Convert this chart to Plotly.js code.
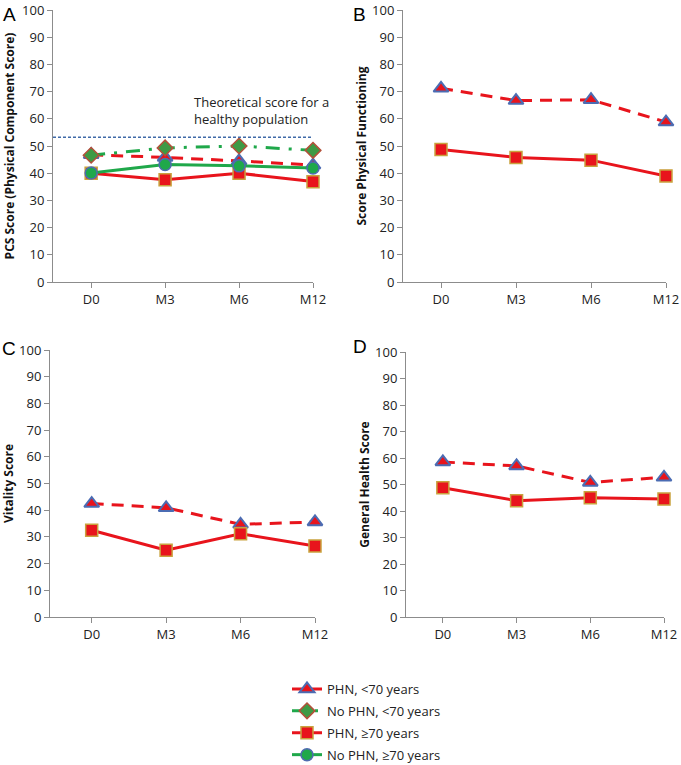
<!DOCTYPE html>
<html>
<head>
<meta charset="utf-8">
<script src="https://cdn.plot.ly/plotly-3.0.1.min.js"></script>
<style>html,body{margin:0;padding:0;background:#fff;}#chart{width:681px;height:765px;}</style>
</head>
<body>
<div id="chart"></div>
<script>
// ---- data ----
const categories = ['D0', 'M3', 'M6', 'M12'];
const seriesNames = ['PHN, <70 years', 'No PHN, <70 years', 'PHN, \u226570 years', 'No PHN, \u226570 years'];
// Panel A: PCS score
const pcsPhnYoung = [46.8, 45.8, 44.5, 43.0];
const pcsNoPhnYoung = [46.6, 49.3, 50.0, 48.4];
const pcsPhnOld = [40.0, 37.6, 40.0, 36.9];
const pcsNoPhnOld = [40.1, 43.2, 42.7, 41.9];
const healthyScore = 53.2;
// Panel B: physical functioning
const pfPhnYoung = [71.2, 66.7, 67.0, 58.8];
const pfPhnOld = [48.7, 45.8, 44.8, 39.0];
// Panel C: vitality
const vtPhnYoung = [42.5, 40.9, 34.7, 35.6];
const vtPhnOld = [32.5, 25.0, 31.2, 26.6];
// Panel D: general health
const ghPhnYoung = [58.5, 57.0, 50.8, 52.7];
const ghPhnOld = [48.8, 43.9, 45.0, 44.5];

const yTitles = ['PCS Score (Physical Component Score)', 'Score Physical Functioning', 'Vitality Score', 'General Health Score'];
const panelLetters = ['A', 'B', 'C', 'D'];

// ---- styles ----
const RED = '#E8141C', GREEN = '#1FA84A';
const styles = [
  {line: {color: RED, width: 3, dash: '12px,8px'}, marker: {symbol: 'triangle-up', size: 13, color: RED, line: {color: '#4B6CB3', width: 2}}},
  {line: {color: GREEN, width: 3, dash: '14px,9px,3px,9px'}, marker: {symbol: 'diamond', size: 12, color: '#3E9A45', line: {color: '#B4503A', width: 1.5}}},
  {line: {color: RED, width: 3}, marker: {symbol: 'square', size: 12, color: RED, line: {color: '#C9A23E', width: 1.5}}},
  {line: {color: GREEN, width: 3}, marker: {symbol: 'circle', size: 12, color: GREEN, line: {color: '#4F6BB0', width: 1.5}}}
];

function tr(y, si, ax, show) {
  return {
    type: 'scatter', mode: 'lines+markers', x: categories, y: y,
    name: seriesNames[si], legendgroup: 'g' + si, showlegend: show,
    line: styles[si].line, marker: styles[si].marker,
    xaxis: 'x' + ax, yaxis: 'y' + ax, cliponaxis: false, hoverinfo: 'x+y'
  };
}

const data = [
  tr(pcsPhnYoung, 0, '', true),
  tr(pcsNoPhnYoung, 1, '', true),
  tr(pcsPhnOld, 2, '', true),
  tr(pcsNoPhnOld, 3, '', true),
  tr(pfPhnYoung, 0, '2', false),
  tr(pfPhnOld, 2, '2', false),
  tr(vtPhnYoung, 0, '3', false),
  tr(vtPhnOld, 2, '3', false),
  tr(ghPhnYoung, 0, '4', false),
  tr(ghPhnOld, 2, '4', false)
];

const W = 681, H = 765;
function px(a, b) { return [a / W, b / W]; }
function py(top, bottom) { return [1 - bottom / H, 1 - top / H]; }

const tickFont = {family: 'Open Sans, sans-serif', size: 13, color: '#222'};
function xa(dom, left) {
  return {domain: dom, type: 'category', range: [left, 3], showline: true, linecolor: '#8C8C8C', linewidth: 1,
    ticks: 'outside', ticklen: 5, tickcolor: '#8C8C8C', tickfont: tickFont, showgrid: false, zeroline: false, fixedrange: true};
}
function ya(dom, title, anchor, standoff) {
  return {domain: dom, anchor: anchor, range: [0, 100], dtick: 10, showline: true, linecolor: '#8C8C8C', linewidth: 1,
    ticks: 'outside', ticklen: 5, tickcolor: '#8C8C8C', tickfont: tickFont, showgrid: false, zeroline: false,
    title: {text: '<b>' + title + '</b>', font: {family: 'Open Sans, sans-serif', size: 12, color: '#111'}, standoff: standoff}, fixedrange: true};
}

const letterFont = {family: 'Liberation Sans, Arial', size: 19, color: '#000'};
const layout = {
  width: W, height: H, margin: {l: 0, r: 0, t: 0, b: 0, autoexpand: false}, paper_bgcolor: '#fff', plot_bgcolor: 'rgba(0,0,0,0)',
  showlegend: true,
  xaxis: Object.assign(xa(px(53, 313), -0.516), {anchor: 'y'}),
  yaxis: ya(py(10, 282), yTitles[0], 'x', 4),
  xaxis2: Object.assign(xa(px(403, 666), -0.507), {anchor: 'y2'}),
  yaxis2: ya(py(10, 282), yTitles[1], 'x2', 2),
  xaxis3: Object.assign(xa(px(50, 315), -0.56), {anchor: 'y3'}),
  yaxis3: ya(py(350, 617), yTitles[2], 'x3', 4),
  xaxis4: Object.assign(xa(px(406, 664), -0.5), {anchor: 'y4'}),
  yaxis4: ya(py(352, 617), yTitles[3], 'x4', 2),
  shapes: [{type: 'line', xref: 'x domain', yref: 'y', x0: 0, x1: 1, y0: healthyScore, y1: healthyScore,
    line: {color: '#3F6AA8', width: 1.4, dash: '3px,2px'}}],
  annotations: [
    {text: 'Theoretical score for a<br>healthy population', xref: 'paper', yref: 'paper', x: 192 / W, y: 1 - 91 / H,
      xanchor: 'left', yanchor: 'top', align: 'left', showarrow: false, font: {family: 'Open Sans, sans-serif', size: 13, color: '#222'}},
    {text: panelLetters[0], xref: 'paper', yref: 'paper', x: 1 / W, y: 1 - 2 / H, xanchor: 'left', yanchor: 'top', showarrow: false, font: letterFont},
    {text: panelLetters[1], xref: 'paper', yref: 'paper', x: 351 / W, y: 1 - 2 / H, xanchor: 'left', yanchor: 'top', showarrow: false, font: letterFont},
    {text: panelLetters[2], xref: 'paper', yref: 'paper', x: 0 / W, y: 1 - 336 / H, xanchor: 'left', yanchor: 'top', showarrow: false, font: letterFont},
    {text: panelLetters[3], xref: 'paper', yref: 'paper', x: 351 / W, y: 1 - 334 / H, xanchor: 'left', yanchor: 'top', showarrow: false, font: letterFont}
  ],
  legend: {x: 287 / W, y: 1 - 674 / H, xanchor: 'left', yanchor: 'top', bgcolor: 'rgba(0,0,0,0)', traceorder: 'grouped',
    tracegroupgap: 2, font: {family: 'Open Sans, sans-serif', size: 13, color: '#222'}}
};

Plotly.newPlot('chart', data, layout, {displayModeBar: false, staticPlot: true});
</script>
</body>
</html>
